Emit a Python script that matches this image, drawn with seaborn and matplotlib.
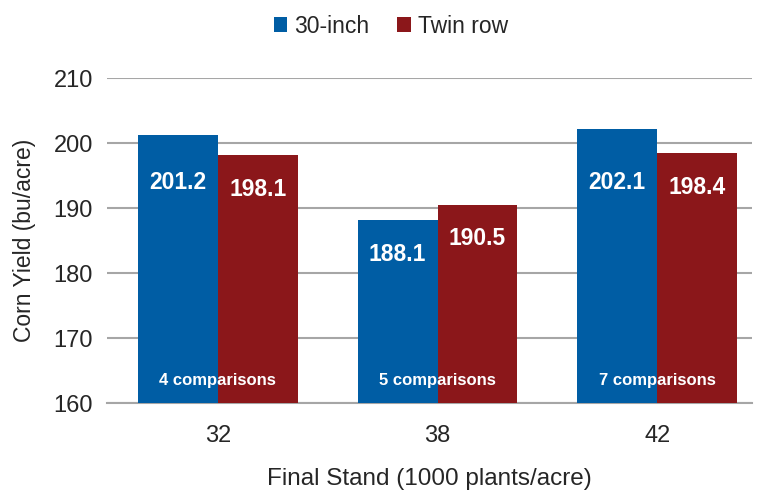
import pandas as pd
import seaborn as sns
import matplotlib.pyplot as plt

stands = ["32", "38", "42"]
row_types = ["30-inch", "Twin row"]
yield_30in = [201.2, 188.1, 202.1]
yield_twin = [198.1, 190.5, 198.4]
comparisons = ["4 comparisons", "5 comparisons", "7 comparisons"]

colors = {"30-inch": "#005DA4", "Twin row": "#8B171A"}

df = pd.DataFrame({
    "stand": stands * 2,
    "row": [row_types[0]] * 3 + [row_types[1]] * 3,
    "yield": yield_30in + yield_twin,
})

sns.set_theme(style="white")
plt.rcParams['font.family'] = ['Liberation Sans', 'DejaVu Sans']

fig = plt.figure(figsize=(7.67, 4.91), dpi=100)
ax = fig.add_axes([0.1395, 0.1792, 0.8405, 0.6618])

sns.barplot(df, x="stand", y="yield", hue="row", palette=colors,
            width=0.727, gap=0, saturation=1, linewidth=0, ax=ax, zorder=3)

ax.set_ylim(160, 210)
ax.set_yticks(range(160, 211, 10))
ax.set_xlim(-0.505, 2.43)
ax.grid(axis="y", color="#a6a6a6", linewidth=1.5, zorder=0)
ax.set_axisbelow(True)
for s in ["left", "right", "top"]:
    ax.spines[s].set_visible(False)
ax.spines["bottom"].set_color("#a6a6a6")
ax.spines["bottom"].set_linewidth(1.5)
ax.tick_params(axis="y", labelsize=17, colors="#262626", length=0, pad=10)
ax.tick_params(axis="x", labelsize=17, colors="#262626", length=0, pad=16)

ax.set_xlabel("Final Stand (1000 plants/acre)", fontsize=17.5, color="#262626", labelpad=15)
ax.set_ylabel("Corn Yield (bu/acre)", fontsize=16.5, color="#262626")
ax.yaxis.set_label_coords(-0.11, 0.5)

for container in ax.containers:
    for bar in container:
        h = bar.get_height()
        ax.text(bar.get_x() + bar.get_width() / 2, min(h, 199.2) - 5.2, f"{h:.1f}",
                ha="center", va="center", color="white", fontsize=16.5,
                fontweight="bold", zorder=5)

for i, label in enumerate(comparisons):
    ax.text(i, 163.4, label, ha="center", va="center", color="white",
            fontsize=12, fontweight="bold", zorder=5)

ax.legend(loc="center", bbox_to_anchor=(0.44, 1.16), ncol=2, frameon=False,
          fontsize=16.5, handlelength=0.6, handleheight=0.6, handletextpad=0.3,
          columnspacing=1.2, labelcolor="#262626")

fig.savefig("out.png", dpi=100)
